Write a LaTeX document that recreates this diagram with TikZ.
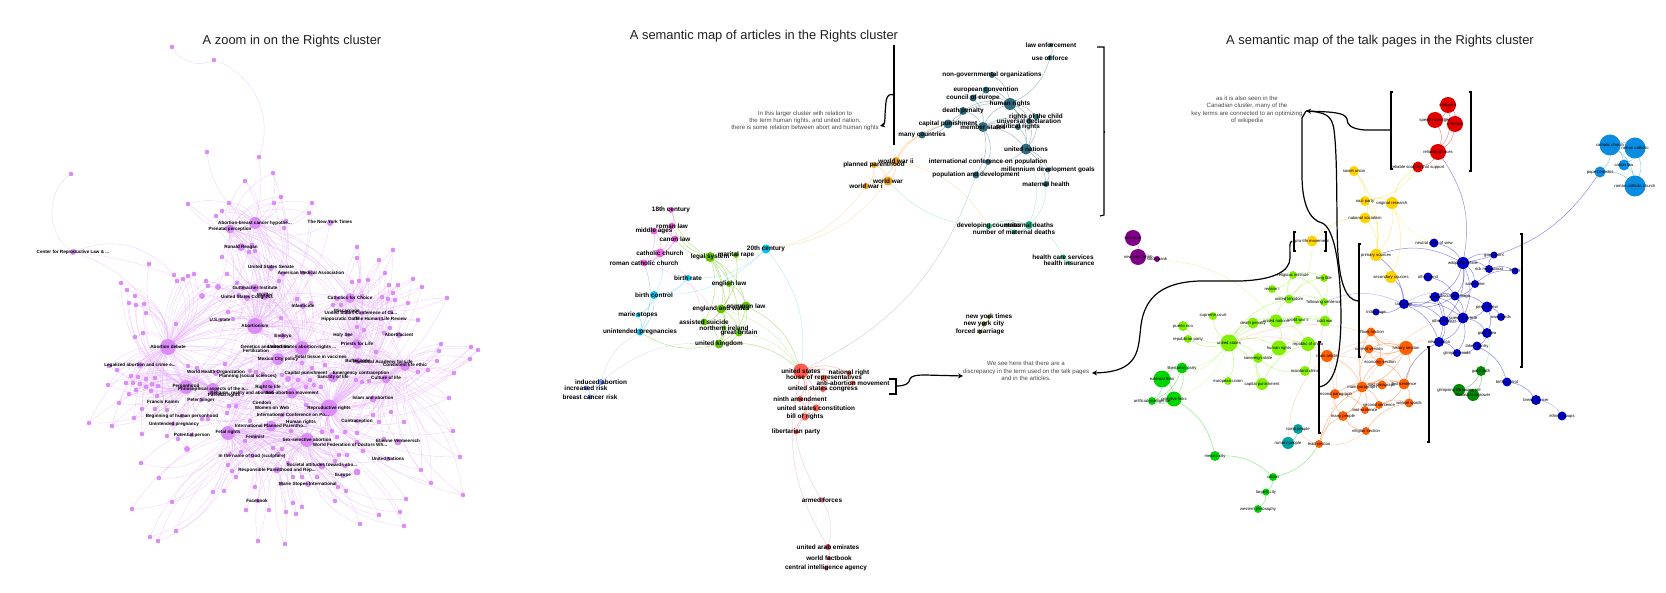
\documentclass[tikz,border=0pt]{standalone}
\usepackage{fontspec}
\setmainfont{Liberation Sans}
\usetikzlibrary{arrows.meta}
\pgfdeclarelayer{edges}
\pgfdeclarelayer{front}
\pgfsetlayers{edges,main,front}
\definecolor{rdot}{HTML}{DB8CF8}
\definecolor{bteal}{HTML}{2F6B7C}
\definecolor{bamber}{HTML}{F39C12}
\definecolor{bsea}{HTML}{14B88A}
\definecolor{bpink}{HTML}{EE66E2}
\definecolor{bleaf}{HTML}{62C400}
\definecolor{bcyan}{HTML}{00BFF3}
\definecolor{bperi}{HTML}{6F92F2}
\definecolor{bred}{HTML}{FF5A50}
\definecolor{brose}{HTML}{C5506E}
\definecolor{bolive}{HTML}{5C5C14}
\definecolor{tpurple}{HTML}{800088}
\definecolor{tyellow}{HTML}{FFD200}
\definecolor{tred}{HTML}{E00000}
\definecolor{tsky}{HTML}{0A8CE0}
\definecolor{tnavy}{HTML}{0000C8}
\definecolor{tforest}{HTML}{008C00}
\definecolor{torange}{HTML}{FF5F00}
\definecolor{tteal}{HTML}{00A0A0}
\definecolor{tlime}{HTML}{80F000}
\definecolor{tgreen}{HTML}{00D400}
\tikzset{
	dot/.style={circle,inner sep=0pt,outer sep=0pt},
	lab/.style={},
	sdot/.style={dot,fill=rdot},
	redge/.style={color=rdot!70,line width=.4pt,opacity=.55},
	tint/.style={color=#1,line width=.5pt,opacity=.45},
	faint/.style={color=#1,line width=.4pt,opacity=.3},
	brk/.style={black,line width=1.2pt},
	head/.style={font=\fontsize{12.9}{15}\selectfont,text=black!88},
	note/.style={font=\fontsize{6.1}{7.3}\selectfont,text=black!72,align=center}
}
\newcommand*{\cut}{...}
\newcommand*{\terms}[2]{%
	\foreach \nm/\x/\y/\sz/\txt in {#2}
		\node[dot,fill=#1,minimum size=\sz] (\nm) at (\x,\y) {};
	\begin{pgfonlayer}{front}
		\foreach \nm/\x/\y/\sz/\txt in {#2}
			\node[lab] (\nm t) at (\nm) {\txt};
	\end{pgfonlayer}
}
\newcommand*{\links}[2]{%
	\foreach \a/\b in {#2}
		\draw[#1] (\a) to[bend left=22] (\b);
}
\newcommand*{\blob}[3]{%
	\foreach \x/\y in {#3}
		\node[sdot,minimum size=#1] (s\x-\y) at (\x,\y) {};
	\begin{pgfonlayer}{edges}
		\foreach \x/\y in {#3}
			\foreach \h/\k in {#2}
				\draw[redge] (s\x-\y) to[bend left=\k] (\h);
	\end{pgfonlayer}
}
\begin{document}
\begin{tikzpicture}[x=1pt,y=-1pt]
	\useasboundingbox (0,0) rectangle (1666,593);
	\node[head] (titlea) at (292,41) {A zoom in on the Rights cluster};
	\node[head] (titleb) at (764,36) {A semantic map of articles in the Rights cluster};
	\node[head] (titlec) at (1380,41) {A semantic map of the talk pages in the Rights cluster};

	\foreach \nm/\x/\y/\sz in {bre/255/223/12,pre/230/229/9,abm/255/326/16,adb/168/347/16,rrt/329/408/17,frt/228/433/14,ssa/307/440/14,rtl/268/387/14,aab/292/393/11,phd/186/387/14,psa/213/389/12,uar/302/348/14,mcp/278/359/12,clf/386/379/9,cle/405/366/10,pfl/357/344/10,cfc/350/298/10,lawc/73/252/6}
		\node[sdot,minimum size=\sz] (\nm) at (\x,\y) {};
	\foreach \nm/\x/\y in {outa/172/47,outb/214/60,outc/259/157,outd/207/152,oute/71/174,outf/174/275,outg/149/264}
		\node[sdot,minimum size=4.6] (\nm) at (\x,\y) {};
	\begin{pgfonlayer}{edges}
		\draw[redge] (outb) to[bend left=40] (outa);
		\draw[redge] (outb) to[bend left=45] (outc);
		\draw[redge] (outc) to[bend left=10] (bre);
		\draw[redge] (outd) to[bend right=25] (bre);
		\draw[redge] (oute) to[bend right=55] (lawc);
		\draw[redge] (lawc) to[bend left=35] (outf);
		\draw[redge] (lawc) to[bend left=25] (adb);
		\draw[redge] (lawc) to[bend left=15] (abm);
		\draw[redge] (outg) to[bend right=20] (adb);
		\foreach \a [count=\i] in {bre,pre,abm,adb,rrt,frt,ssa,rtl,aab,phd,psa,uar,mcp,clf,cle,pfl,cfc}
			\foreach \b [count=\j] in {bre,pre,abm,adb,rrt,frt,ssa,rtl,aab,phd,psa,uar,mcp,clf,cle,pfl,cfc}
				{\ifnum\i<\j \draw[redge] (\a) to[bend left=24] (\b);\fi}
	\end{pgfonlayer}

	\blob{4.6}{bre/30,pre/-25,abm/25}{229/203,222/211,216/216,245/181,273/173,274/203,281/197,312/203,309/213,284/228,286/221,252/245,249/252,255/251,222/257,188/204}
	\blob{6}{bre/30,abm/25}{330/223,271/268,311/273}
	\blob{8}{pre/30,abm/25,uar/20}{241/247,255/288,265/296}
	\blob{4.6}{abm/30,adb/-20,uar/25}{227/274,283/274,303/273,206/281,208/286,237/283,279/281,243/288,239/295,297/299,311/303,228/312,220/320,233/319,281/318}
	\blob{6}{abm/30,adb/-20}{218/287,202/296,247/298,303/306,283/336}
	\blob{4.6}{cfc/25,pfl/-25,rrt/20}{357/247,357/258,379/260,393/250,385/273,413/279,422/287,352/282,359/281,368/280,389/285,398/285,393/293,388/299,395/300,382/297,408/303,447/298,337/299,362/296,333/305,341/305,347/312,362/313,391/312,418/320,390/328,364/330,357/327,384/333,348/335,381/319}
	\blob{6}{cfc/25,pfl/-25}{399/335}
	\blob{4.6}{adb/35,phd/-30}{121/283,127/290,135/296,129/303,136/305,144/304,146/313,177/281,183/279,188/276,194/274,176/324,143/333,135/337}
	\blob{4.6}{adb/20,phd/-20,psa/25}{109/366,117/370,131/376,138/377,146/379,155/378,126/383,133/383,140/384,152/384,158/386,108/385,136/390,146/387,151/391,129/394,157/396,119/403,142/409,155/409,167/410,182/416,134/418,89/423,112/426,142/434,167/436,178/439,192/435,173/424,188/366,197/368,225/364}
	\blob{6}{adb/25,psa/25}{140/365,187/449,216/373}
	\blob{4.6}{rtl/25,aab/-25,uar/20,rrt/25}{250/371,256/372,263/374,282/375,302/363,312/368,298/380,310/380,306/387,314/385,321/387,325/365,201/400,229/406,236/406,227/413,202/419,208/419,250/421,291/431,306/405,282/415,322/432,332/431}
	\blob{6}{rtl/25,rrt/25}{288/379}
	\blob{11}{rtl/25,rrt/25,uar/-20}{333/377,271/426}
	\blob{4.6}{cle/30,clf/-25,rrt/20}{437/361,441/344,439/351,471/347,478/350,470/359,428/370,418/372,454/373,376/352,356/380,369/381,362/382,449/398,453/431,460/457,379/422,404/422,391/412,373/415,357/421,357/433,345/432,357/442,384/439,421/470,431/483,463/495}
	\blob{7}{clf/25,rrt/25}{358/361,373/399,398/442}
	\blob{4.6}{ssa/25,frt/-25,rrt/20}{255/437,245/441,241/452,230/454,252/456,273/448,282/449,278/454,228/465,232/471,236/477,288/463,345/466,335/461,339/455,347/455,343/476,346/491,338/487,363/451,388/459,337/437}
	\blob{7}{ssa/25,frt/25}{322/466,357/472,277/470}
	\blob{4.6}{ssa/35,frt/-35}{406/499,400/512,379/515,360/524,404/526,335/501,302/507,293/503,286/512,296/514,269/510,246/510,258/501,258/541,285/544,176/531,150/537,158/541,132/509,172/502,159/478,141/463,213/492,224/491,255/487,281/484,293/477,302/477,317/477}
	\blob{6}{ssa/30,frt/-25}{308/484}

	\begin{scope}[lab/.style={font=\fontsize{4.6}{5}\selectfont\bfseries,inner sep=0pt}]
		\begin{pgfonlayer}{front}
			\foreach \x/\y/\txt [count=\i] in {255/223/Abortion-breast cancer hypothe\cut,230/229/Prenatal perception,330/222/The New York Times,241/247/Ronald Reagan,73/252/Center for Reproductive Law \& \cut,271/267/United States Senate,311/273/American Medical Association,255/288/Guttmacher Institute,247/297/United States Congress,265/295/Murder,350/298/Catholics for Choice,303/306/Infanticide,347/311/Miscarriage,361/313/United States Conference of Ca\cut,220/320/U.S. state,255/326/Abortionism,340/319/Hippocratic Oath,381/319/The Human Life Review,283/336/Embryo,343/335/Holy See,168/347/Abortion debate,399/335/Abortifacient,265/347/Genetics and abortion,256/351/Fertilization,302/347/United States abortion-rights \cut,357/344/Priests for Life,278/359/Mexico City policy,321/357/Fetal tissue in vaccines,358/361/Buffer zone,383/362/Pontifical Academy for Life,405/365/Consistent life ethic,140/365/Legalized abortion and crime e\cut,216/372/World Health Organization,248/376/Planning (social sciences),306/373/Capital punishment,361/373/Emergency contraception,333/377/Sanctity of life,386/378/Culture of life,186/386/Personhood,213/389/Philosophical aspects of the a\cut,268/387/Right to life,292/393/Anti-abortion movement,242/393/{Religion, reality and abortion},224/395/Parental rights,373/398/Islam and abortion,163/402/Francis Kamm,201/400/Peter Singer,262/403/Condom,272/408/Women on Web,329/408/Reproductive rights,182/416/Beginning of human personhood,293/415/International Conference on Po\cut,301/422/Human rights,357/421/Contraception,174/424/Unintended pregnancy,271/426/International Planned Parentho\cut,192/435/Potential person,228/432/Fetal rights,255/437/Feminist,307/440/Sex-selective abortion,350/445/World Federation of Doctors Wh\cut,398/441/Etienne Vermeersch,252/456/In the name of God (sculpture),388/459/United Nations,322/465/Societal attitudes towards abo\cut,277/470/Responsible Parenthood and Rep\cut,343/475/Europe,308/484/Marie Stopes International,257/501/Facebook}
				\node[lab] (plab\i) at (\x,\y) {\txt};
		\end{pgfonlayer}
	\end{scope}

	\begin{scope}[lab/.style={font=\fontsize{6.4}{7}\selectfont\bfseries,inner sep=0pt}]
		\terms{bteal}{law/1051/45/4/law enforcement,usef/1050/58/5/use of force,ngo/992/75/6/non-governmental organizations,ecv/986/90/7/european convention,coe/973/98/7/council of europe,hrg/1010/104/12/human rights,dpn/963/111/8/death penalty,cpn/948/124/9/capital punishment,mst/983/127/10/member states,udr/1029/121/6/universal declaration,rch/1036/117/6/rights of the child,prg/1018/127/6/political rights,mct/922/135/7/many countries,uno/1026/149/11/united nations,icp/988/162/6/international conference on population,mdg/1048/170/5/millennium development goals,pdv/976/175/7/population and development,mhl/1046/184/6/maternal health}
		\terms{bamber}{wwii/896/161/8/world war ii,ppd/874/165/6/planned parenthood,wwr/888/181/9/world war,wwi/866/186/6/world war i}
		\terms{bsea}{dco/989/226/6/developing countries,mde/1029/225/8/maternal deaths,nmd/1014/232/5/number of maternal deaths,hcs/1063/257/5/health care services,hin/1069/263/4/health insurance}
		\terms{bpink}{c18/671/210/6/18th century,rla/672/226/7/roman law,mag/654/231/7/middle ages,cla/675/239/7/canon law,cch/660/253/9/catholic church,rcc/644/263/7/roman catholic church}
		\terms{bleaf}{lsy/710/257/10/legal system,mra/736/255/6/marital rape,ela/729/284/6/english law,ewa/721/309/9/england and wales,cml/746/306/9/common law,asu/704/322/7/assisted suicide,nir/724/328/5/northern ireland,gbr/739/333/7/great britain,ukd/719/344/9/united kingdom}
		\terms{bcyan}{c20/766/249/9/20th century,bra/688/278/6/birth rate,bco/654/295/8/birth control,mas/638/315/5/marie stopes,upr/640/332/7/unintended pregnancies}
		\terms{bperi}{iab/601/382/6/induced abortion,iri/586/388/5/increased risk,bcr/590/397/5/breast cancer risk}
		\terms{bred}{uss/801/371/15/united states,nri/849/373/5/national right,hre/824/378/6/house of representatives,aam/853/383/5/anti-abortion movement,usc/823/389/6/united states congress,nam/800/399/6/ninth amendment,con/816/408/7/united states constitution,bor/805/417/7/bill of rights,lpa/796/432/5/libertarian party}
		\terms{brose}{afo/822/500/5/armed forces,uae/828/547/6/united arab emirates,wfb/829/558/4/world factbook,cia/826/568/4/central intelligence agency}
		\terms{bolive}{nyt/989/317/4/new york times,nyc/984/324/5/new york city,fma/980/332/4/forced marriage}
	\end{scope}

	\begin{scope}[lab/.style={font=\fontsize{4.2}{5}\selectfont,inner sep=0pt,text=black}]
		\terms{tpurple}{tny/1133/238/16/new york,tnt/1138/257/16/new york times,tsb/1157/259/6/stock bank}
		\terms{tyellow}{tpl/1312/241/11/pro-life movement,tsu/1354/171/10/soviet union,tna/1365/201/10/nazi party,tor/1392/203/12/original research,tns/1365/218/11/national socialism,tps/1376/255/12/primary sources,tse/1391/277/12/secondary sources}
		\terms{tred}{tcg/1448/105/16/change s,tsf/1435/120/16/specific changes,tfm/1455/124/16/y format,trs/1438/152/16/reliable sources,trt/1418/167/11/reliable sources that support}
		\terms{tsky}{tca/1610/145/21/catholic church,tro/1635/148/21/roman catholic,tcn/1624/165/11/canon law,tpo/1600/172/11/pope benedict,trh/1635/186/21/roman catholic church}
		\terms{tnavy}{tnp/1434/243/9/neutral point of view,tgp/1494/255/7/good point,twa/1463/263/12/wikipedia article,trm/1489/269/8/rick mcdowood,tes/1515/271/7/essay,tot/1428/277/9/other hand,tst/1475/284/8/same time,tim/1435/297/10/image,tdi/1455/296/9/discussion page,ttp/1404/304/10/talk page,tig/1376/312/7/india page,tpe/1487/307/11/peer review,tow/1501/317/8/own words,tos/1444/321/10/other section,tsa/1463/318/11/scientific article,tgi/1487/333/10/good idea,ttc/1477/346/9/take country,tnw/1439/342/10/new section,tgt/1457/353/8/glimpse trends,tbc/1507/382/9/birth control,tbr/1536/400/10/breast cancer,teg/1562/416/9/ethnic groups}
		\terms{tforest}{tgf/1481/371/10/good faith,tgl/1459/390/12/glimpsing lifesaving me,tlm/1473/395/12/lifesaving ingrower}
		\terms{torange}{taf/1371/332/9/affairs section,tcv/1369/349/9/current version,thi/1406/348/14/history section,tar/1327/356/12/main article,tec/1380/362/9/economy section,tmp/1362/387/11/main paragraph,tlg/1382/385/9/last paragraph,tfs/1404/384/11/first sentence,tsp/1335/394/10/second paragraph,tss/1379/405/8/second sentence,twe/1409/403/9/weasel words,tls/1365/410/8/last sentence,tmy/1343/416/10/many people,trl/1366/431/8/religion section,tle/1319/444/8/lead section}
		\terms{tteal}{tra/1298/429/10/roma people,tri/1288/443/12/romani people}
		\terms{tlime}{tin/1293/275/8/religious institute,tre/1272/289/8/reason i,tlo/1324/278/8/long title,tuk/1289/299/9/united kingdom,tfo/1324/302/8/following sentence,tsc/1213/316/8/supreme court,tdp/1253/323/11/death penalty,tun/1276/321/13/united nations,tww/1298/320/9/world war ii,tcw/1325/321/11/cold war,tus/1229/343/17/united states,thr/1279/348/15/human rights,trc/1308/344/14/republic of china,tso/1258/358/10/sovereign state,tma/1305/371/10/mainland china,teu/1228/381/8/european union,tcp/1262/384/12/capital punishment,tpr/1183/326/10/puerto rico,trp/1188/339/8/republican party}
		\terms{tgreen}{tlp/1182/368/11/libertarian party,tel/1162/379/17/external links,tpm/1174/399/15/primitive links,tai/1152/401/8/artificial intelligence,tmc/1215/456/10/mexico city,tct/1273/477/8/citizen,tlc/1266/492/7/largest city,twp/1258/509/8/western philosophy}
	\end{scope}

	\begin{pgfonlayer}{edges}
		\links{tint=bteal}{law/usef,usef/hrg,ngo/hrg,ecv/hrg,ecv/coe,coe/hrg,coe/mst,dpn/hrg,dpn/mst,dpn/cpn,cpn/mst,cpn/hrg,mst/hrg,mst/udr,mst/prg,mst/uno,hrg/rch,hrg/udr,hrg/prg,hrg/uno,udr/uno,prg/uno,rch/uno,mst/icp,mst/pdv,icp/pdv,uno/icp,uno/mdg,uno/mhl,mdg/mhl,cpn/mct,mct/mst}
		\links{tint=bamber}{wwii/ppd,wwii/wwr,wwii/wwi,wwr/wwi,ppd/wwr,ppd/wwi,wwii/mct,wwii/cpn}
		\links{faint=bamber}{wwr/c20,wwi/c20,wwii/dco}
		\links{tint=bsea}{dco/mde,dco/nmd,mde/nmd,hcs/hin}
		\links{faint=bsea}{mde/hcs,uno/mde,mhl/mde,dco/wwr}
		\links{faint=bteal}{pdv/uss}
		\links{tint=bpink}{c18/rla,rla/mag,mag/cla,cla/cch,rla/cch,mag/cch,cch/rcc,mag/rcc,cla/rcc}
		\links{faint=bpink}{rcc/upr,cch/asu,rcc/nir}
		\links{tint=bleaf}{lsy/c18,lsy/rla,lsy/cla,lsy/mra,lsy/ela,lsy/ewa,lsy/cml,lsy/asu,lsy/gbr,lsy/ukd,ela/ewa,ela/cml,ewa/cml,ewa/asu,ewa/nir,ewa/gbr,ewa/ukd,cml/gbr,cml/ukd,asu/nir,asu/ukd,nir/gbr,gbr/ukd,nir/ukd,cml/uss,ukd/uss,ukd/upr,mra/ewa}
		\links{faint=bleaf}{gbr/uss,c20/lsy,ewa/uss}
		\links{tint=bcyan}{bra/bco,bco/mas,mas/upr,bco/upr}
		\links{faint=bcyan}{c20/bra,c20/bco,c20/uss,cch/bco,rcc/upr}
		\links{tint=bperi}{iab/iri,iab/bcr,iri/bcr}
		\links{faint=bperi}{iab/upr,iab/ukd}
		\links{tint=bred}{uss/nri,uss/hre,uss/aam,uss/usc,uss/nam,uss/con,uss/bor,uss/lpa,hre/usc,nam/con,nam/bor,con/bor,aam/usc,usc/con,lpa/bor,nri/aam}
		\links{faint=brose}{afo/uss,afo/uae,uae/uss,uae/wfb,uae/cia,wfb/cia}
		\links{tint=bolive}{nyt/nyc,nyc/fma}

		\links{tint=tpurple}{tny/tnt,tnt/tsb}
		\links{faint=tlime}{tsb/tun,tpl/tuk}
		\links{tint=tred}{tcg/tsf,tcg/tfm,tsf/tfm,tsf/trs,tfm/trs,tcg/trs,trs/trt}
		\links{tint=tsky}{tca/tro,tca/tcn,tca/tpo,tca/trh,tro/tcn,tro/trh,tcn/trh,tpo/trh}
		\links{tint=tyellow}{tsu/tna,tna/tor,tna/tns,tns/tps,tna/tps,tor/tps,tor/trt,tor/tse,tsu/tps,trt/tna,tpl/tns}
		\links{faint=tyellow}{tnp/tor,tps/tse}
		\links{tint=tnavy}{tps/twa,tnp/twa,tps/ttp,tse/ttp,twa/tgp,twa/trm,trm/tgp,twa/tst,trm/tes,tst/tes,twa/tim,twa/tdi,tst/tdi,tim/tdi,tot/tdi,tim/ttp,tdi/ttp,ttp/tig,ttp/tos,ttp/tsa,tim/tsa,tdi/tsa,tdi/tpe,tpe/tow,tpe/tsa,tsa/tos,tsa/tgi,tos/tnw,tsa/tnw,tpe/tgi,tgi/ttc,tnw/tgt,ttc/tgt,tsa/tgt,ttc/tbc,tbc/tbr,ttp/tnw,tim/tos,tim/tnw,tfs/tnw,twa/tsa,twa/tos,trs/twa,tpo/twa}
		\links{faint=tnavy}{tbr/teg,ttp/tdi,tfo/ttp}
		\links{tint=tforest}{tgf/tgl,tgf/tlm,tgl/tlm}
		\links{faint=tgreen}{tgi/tgf}
		\links{tint=torange}{thi/taf,thi/tcv,thi/tec,thi/tmp,thi/tfs,tle/tmy,tle/tmp,tmp/tfs,tmp/tlg,tlg/tfs,tmp/tsp,tmp/tec,tmp/taf,tmp/tcv,tmp/tss,tmp/tls,tmp/tmy,tsp/tlg,tsp/tls,tec/tfs,tec/tcv,tcv/thi,taf/tec,tfs/twe,tfs/tss,tss/tls,tss/twe,tmy/tls,tmy/tsp,trl/tmy,trl/twe,tar/tmp}
		\links{faint=torange}{tar/thi,tar/tsp,tar/tle,trl/tle,tle/tra,taf/tar,tus/tar,tus/thi,thi/trc,thi/tnw,tmp/tpe,tar/tcw,tri/tar}
		\links{tint=tteal}{tra/tri}
		\links{tint=tlime}{tus/tpr,tus/trp,tus/tsc,tus/tdp,tus/tun,tus/thr,tus/tso,tus/teu,tus/tcp,tdp/tun,tun/tww,tun/tuk,tun/thr,tun/trc,tuk/tin,tuk/tre,tuk/tlo,tuk/tfo,tin/tlo,tin/tre,tin/tfo,tlo/tfo,tfo/tcw,tww/tcw,thr/tso,thr/trc,trc/tma,tma/tso,tcp/trc,tcp/tso,tus/tuk,tus/tcw}
		\links{tint=tgreen}{tel/tlp,tel/tpm,tel/tai,tlp/tpm,tpm/tai,tpm/tmc,tmc/tct,tle/tct,tct/tlc,tlc/twp,tlp/tai}
		\links{faint=tlime}{tus/tlp,tus/tel,tus/tpm}
	\end{pgfonlayer}

	\node[note] (notea) at (805,121) {In this larger cluster with relation to\\the term human rights, and united nation.\\there is some relation between abort and human rights};
	\node[note] (noteb) at (1026,371) {We see here that there are a\\discrepancy in the term used on the talk pages\\and in the articles.};
	\node[note] (notec) at (1247,110) {as it is also seen in the\\Canadian cluster, many of the\\key terms are connected to an optimizing\\of wikipedia};

	\coordinate (arra) at (894,95);
	\coordinate (arrb) at (880,126);
	\coordinate (arrc) at (896,386);
	\coordinate (arrd) at (963,376);
	\coordinate (arre) at (1292,241);
	\coordinate (arrf) at (1092,373);
	\coordinate (arrg) at (1391,130);
	\coordinate (arrh) at (1358,301);
	\coordinate (arri) at (1318,387);
	\coordinate (arrj) at (1306,111);

	\draw[brk] (894,45) -- (894,145);
	\draw[brk] (1097,47) -- (1104,47) -- (1104,215) -- (1100,216);
	\draw[brk] (1104,132) -- (1105,132);
	\draw[brk] (889,379) -- (896,379) -- (896,394) -- (889,394);
	\draw[brk] (1296,232) -- (1294,232) -- (1294,251) -- (1296,251);
	\draw[brk] (1324,232) -- (1326,232) -- (1326,251) -- (1324,251);
	\draw[brk] (1393,92) -- (1391,92) -- (1391,169) -- (1393,169);
	\draw[brk] (1469,92) -- (1471,92) -- (1471,171) -- (1469,171);
	\draw[brk] (1471,131) -- (1472,131);
	\draw[brk] (1361,244) -- (1359,244) -- (1359,357) -- (1361,357);
	\draw[brk] (1520,234) -- (1522,234) -- (1522,367) -- (1520,367);
	\draw[brk] (1522,301) -- (1523,301);
	\draw[brk] (1321,342) -- (1319,342) -- (1319,433) -- (1321,433);
	\draw[brk] (1427,347) -- (1429,347) -- (1429,442) -- (1427,442);
	\draw[brk] (1429,395) -- (1430,395);

	\draw[brk,-{Stealth[length=5pt,width=5pt]}] (arra) .. controls (885,92) and (886,103) .. (885,115) .. controls (885,123) and (884,125) .. (arrb);
	\draw[brk,-{Stealth[length=5pt,width=5pt]}] (arrc) .. controls (905,386) and (909,384) .. (910,379) .. controls (911,376) and (916,375) .. (925,375) -- (arrd);
	\draw[brk,-{Stealth[length=5pt,width=5pt]}] (arre) .. controls (1289,241) and (1290,250) .. (1290,258) .. controls (1290,272) and (1272,280) .. (1240,281) -- (1200,281) .. controls (1165,282) and (1145,295) .. (1141,325) .. controls (1138,350) and (1140,372) .. (arrf);
	\draw[brk,-{Stealth[length=5pt,width=5pt]}] (arrg) -- (1365,130) .. controls (1350,129) and (1347,124) .. (1347,119) .. controls (1345,112) and (1330,112) .. (arrj);
	\draw[brk] (arrh) .. controls (1345,300) and (1340,280) .. (1338,255) .. controls (1336,225) and (1338,160) .. (1334,130) .. controls (1332,115) and (1325,112) .. (arrj);
	\draw[brk] (arri) .. controls (1335,386) and (1340,360) .. (1341,320) .. controls (1341,270) and (1335,228) .. (1322,223) .. controls (1310,220) and (1302,205) .. (1302,175) -- (1302,118) -- (arrj);
\end{tikzpicture}
\end{document}
